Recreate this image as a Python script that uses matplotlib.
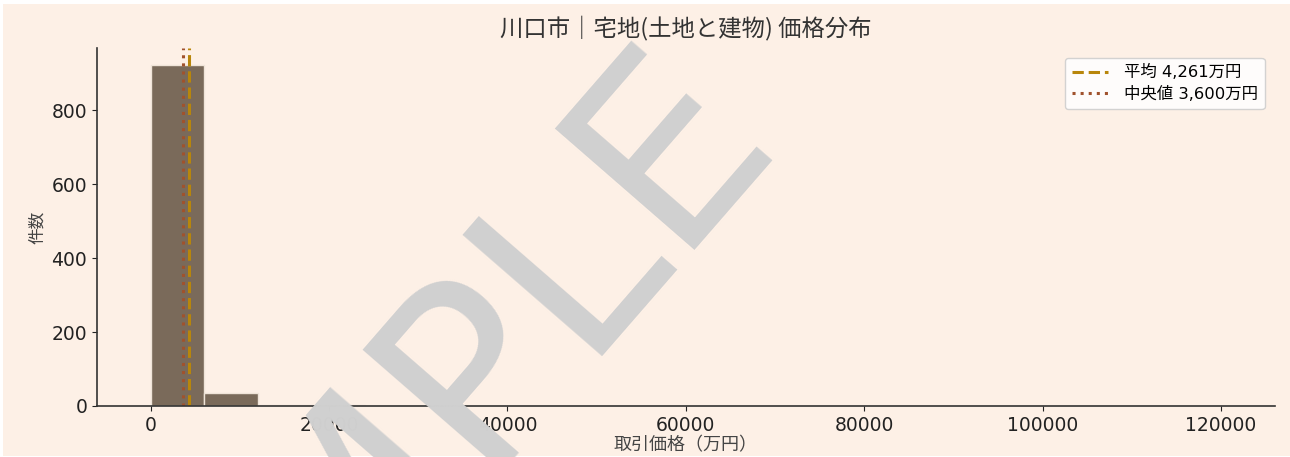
import matplotlib
matplotlib.use("Agg")
import matplotlib.pyplot as plt
from matplotlib.patches import Rectangle

plt.rcParams['font.family'] = ['DejaVu Sans', 'Noto Sans CJK JP']

# ヒストグラムの値（万円）
bin_left = [0, 6000, 12000, 18000, 24000, 30000, 36000, 42000, 48000, 54000,
            60000, 66000, 72000, 78000, 84000, 90000, 96000, 102000, 108000, 114000]
bin_right_end = 120000
counts = [922, 35, 4, 2, 1, 0, 0, 0, 0, 0,
          0, 0, 0, 0, 0, 0, 0, 0, 0, 1]
mean_price = 4261
median_price = 3600

title = "川口市｜宅地(土地と建物) 価格分布"
bg = "#fdf0e6"
cjk = ["Noto Sans CJK JP", "DejaVu Sans"]

fig = plt.figure(figsize=(12.9, 4.57), dpi=100, facecolor="white")
fig.patches.append(Rectangle((3 / 1290, 1 / 457), 1, 1 - 5 / 457,
                             transform=fig.transFigure, facecolor=bg,
                             edgecolor="none", zorder=-10))
ax = fig.add_axes([0.0752, 0.1116, 0.9128, 0.7834])
ax.set_facecolor(bg)

edges = bin_left + [bin_right_end]
centers = [(edges[i] + edges[i + 1]) / 2 for i in range(len(bin_left))]
ax.hist(centers, bins=edges, weights=counts, color="#7a6a5a",
        edgecolor="#efe4d8", linewidth=1)

ax.axvline(mean_price, color="#b8860b", linestyle="--", linewidth=2.2,
           label=f"平均 {mean_price:,}万円")
ax.axvline(median_price, color="#a0522d", linestyle=":", linewidth=2.2,
           label=f"中央値 {median_price:,}万円")

ax.set_title(title, fontsize=16.8, color="#333333", pad=9, family=cjk)
ax.set_xlabel("取引価格（万円）", fontsize=13, color="#444444", labelpad=1,
              family=cjk)
ax.set_ylabel("件数", fontsize=12, color="#444444", labelpad=4, family=cjk)
ax.set_yticks([0, 200, 400, 600, 800])
ax.set_xticks([0, 20000, 40000, 60000, 80000, 100000, 120000])
ax.tick_params(labelsize=13.5, colors="#222222")
for side in ["top", "right"]:
    ax.spines[side].set_visible(False)
for side in ["left", "bottom"]:
    ax.spines[side].set_color("#333333")
    ax.spines[side].set_linewidth(1.2)

leg = ax.legend(loc="upper right", fontsize=11.8, frameon=True,
                handlelength=2.2, handletextpad=1.0, borderaxespad=0.6,
                labelspacing=0.35)
leg.get_frame().set_facecolor("white")
leg.get_frame().set_alpha(0.85)
leg.get_frame().set_edgecolor("#cccccc")

# 透かし
fig.text(0.306, -0.028, "SAMPLE", fontsize=182, color="#d0d0d0",
         rotation=49, ha="center", va="center", family="DejaVu Sans",
         zorder=20)

fig.savefig("out.png", dpi=100, facecolor=fig.get_facecolor())
